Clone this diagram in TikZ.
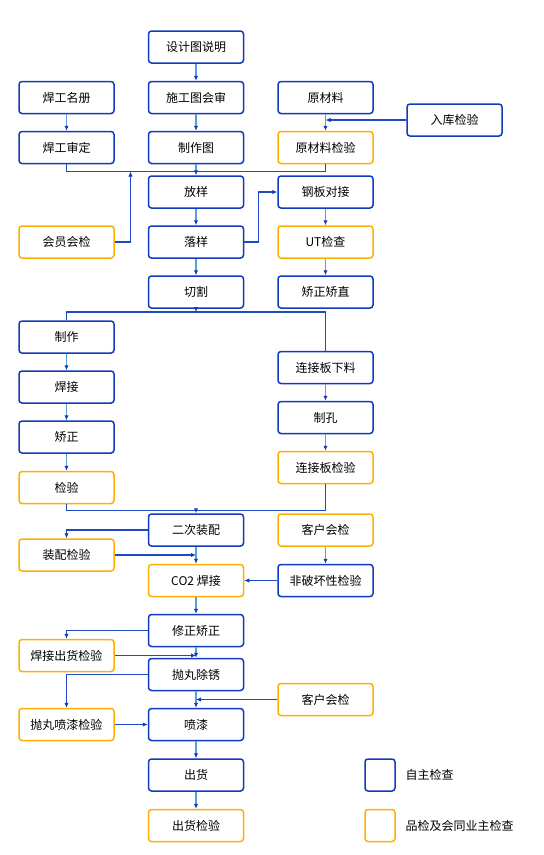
\documentclass[tikz,border=0pt]{standalone}
\usepackage{fontspec}
\setmainfont{Noto Sans CJK SC}
\usetikzlibrary{arrows.meta}
\definecolor{bleufonce}{RGB}{18,58,190}
\definecolor{bleuclair}{RGB}{88,158,218}
\definecolor{orangeqc}{RGB}{255,176,0}
\begin{document}
\begin{tikzpicture}[x=1pt,y=-1pt,font=\fontsize{12}{14}\selectfont]
	\tikzstyle{etape}=[draw=bleufonce,line width=1.5pt,rounded corners=3pt,fill=white,minimum width=95pt,minimum height=32pt,inner sep=0pt]
	\tikzstyle{controle}=[etape,draw=orangeqc]
	\tikzstyle{fleche}=[-{Latex[length=5pt,width=4.5pt,color=bleufonce]},bleuclair,line width=1.3pt]
	\tikzstyle{ligne}=[bleufonce!85!bleuclair,line width=1.2pt]
	\tikzstyle{renvoi}=[ligne,-{Latex[length=5pt,width=4.5pt,color=bleufonce]}]
	\def\ColA{66.5}\def\ColB{196}\def\ColC{325.5}\def\ColD{454.5}
	\useasboundingbox (0,0) rectangle (544,855);
	% colonne centrale
	\node[etape] (Plan) at (\ColB,47) {设计图说明};
	\node[etape] (Revue) at (\ColB,97.5) {施工图会审};
	\node[etape] (Dessin) at (\ColB,147.5) {制作图};
	\node[etape] (Trace) at (\ColB,192) {放样};
	\node[etape] (Report) at (\ColB,242) {落样};
	\node[etape] (Coupe) at (\ColB,292) {切割};
	\node[etape] (Assemb) at (\ColB,530) {二次装配};
	\node[controle] (Soud) at (\ColB,580.5) {CO2 焊接};
	\node[etape] (Redr) at (\ColB,630.5) {修正矫正};
	\node[etape] (Gren) at (\ColB,674.5) {抛丸除锈};
	\node[etape] (Peint) at (\ColB,724.5) {喷漆};
	\node[etape] (Exped) at (\ColB,775) {出货};
	\node[controle] (ExpedCtl) at (\ColB,825.5) {出货检验};
	% colonne gauche
	\node[etape] (Soudeurs) at (\ColA,97.5) {焊工名册};
	\node[etape] (SoudAgr) at (\ColA,147.5) {焊工审定};
	\node[controle] (Membres) at (\ColA,242) {会员会检};
	\node[etape] (Fab) at (\ColA,337) {制作};
	\node[etape] (FabSoud) at (\ColA,387) {焊接};
	\node[etape] (FabRedr) at (\ColA,437) {矫正};
	\node[controle] (FabCtl) at (\ColA,487.5) {检验};
	\node[controle] (AssembCtl) at (\ColA,555) {装配检验};
	\node[controle] (SoudCtl) at (\ColA,655.5) {焊接出货检验};
	\node[controle] (PeintCtl) at (\ColA,724.5) {抛丸喷漆检验};
	% colonne droite
	\node[etape] (Matiere) at (\ColC,97.5) {原材料};
	\node[controle] (MatCtl) at (\ColC,147.5) {原材料检验};
	\node[etape] (Stock) at (\ColD,120) {入库检验};
	\node[etape] (Tole) at (\ColC,192) {钢板对接};
	\node[controle] (UT) at (\ColC,242) {UT检查};
	\node[etape] (Dress) at (\ColC,292) {矫正矫直};
	\node[etape] (Plaque) at (\ColC,367.5) {连接板下料};
	\node[etape] (Percage) at (\ColC,417.5) {制孔};
	\node[controle] (PlaqueCtl) at (\ColC,467.5) {连接板检验};
	\node[controle] (Client) at (\ColC,530) {客户会检};
	\node[etape] (CND) at (\ColC,580.5) {非破坏性检验};
	\node[controle] (ClientB) at (\ColC,699.5) {客户会检};
	% legende
	\node[etape,minimum width=30pt,minimum height=32pt] (LegA) at (380,775) {};
	\node[controle,minimum width=30pt,minimum height=32pt] (LegB) at (380,825.5) {};
	\node[anchor=west] (LegAtxt) at (402,775) {自主检查};
	\node[anchor=west] (LegBtxt) at (402,825.5) {品检及会同业主检查};
	% points de jonction
	\coordinate (BusA) at (\ColB,171.5);
	\coordinate (BusAg) at (130.5,171.5);
	\coordinate (BusB) at (\ColB,312);
	\coordinate (BusC) at (\ColB,510.5);
	\coordinate (StockPt) at (\ColC,120);
	\coordinate (AssembPt) at (\ColB,555);
	\coordinate (SoudPt) at (\ColB,655.5);
	\coordinate (ClientPt) at (\ColB,699.5);
	% liaisons
	\draw[fleche] (Plan)--(Revue);
	\draw[fleche] (Revue)--(Dessin);
	\draw[fleche] (Soudeurs)--(SoudAgr);
	\draw[fleche] (Matiere)--(MatCtl);
	\draw[renvoi] (Stock.west)--(StockPt);
	\draw[ligne] (SoudAgr.south) |- (BusA) -| (MatCtl.south);
	\draw[renvoi] (Membres.east) -| (BusAg);
	\draw[fleche] (Dessin)--(Trace);
	\draw[fleche] (Trace)--(Report);
	\draw[fleche] (Report)--(Coupe);
	\draw[renvoi] (Report.east) -- ++(14.5,0) |- (Tole.west);
	\draw[fleche] (Tole)--(UT);
	\draw[fleche] (UT)--(Dress);
	\draw[ligne] (Fab.north) |- (BusB) -| (Plaque.north);
	\draw[fleche] (Coupe.south)--(BusB);
	\draw[fleche] (Fab)--(FabSoud);
	\draw[fleche] (FabSoud)--(FabRedr);
	\draw[fleche] (FabRedr)--(FabCtl);
	\draw[fleche] (Plaque)--(Percage);
	\draw[fleche] (Percage)--(PlaqueCtl);
	\draw[ligne] (FabCtl.south) |- (BusC) -| (PlaqueCtl.south);
	\draw[fleche] (BusC)--(Assemb.north);
	\draw[renvoi] (Assemb.west) -| (AssembCtl.north);
	\draw[fleche] (Assemb)--(Soud);
	\draw[renvoi] (AssembCtl.east)--(AssembPt);
	\draw[fleche] (Client)--(CND);
	\draw[renvoi] (CND.west)--(Soud.east);
	\draw[fleche] (Soud)--(Redr);
	\draw[renvoi] (Redr.west) -| (SoudCtl.north);
	\draw[fleche] (Redr)--(Gren);
	\draw[renvoi] (SoudCtl.east)--(SoudPt);
	\draw[renvoi] (Gren.west) -| (PeintCtl.north);
	\draw[fleche] (Gren)--(Peint);
	\draw[renvoi] (ClientB.west)--(ClientPt);
	\draw[renvoi] (PeintCtl.east)--(Peint.west);
	\draw[fleche] (Peint)--(Exped);
	\draw[fleche] (Exped)--(ExpedCtl);
\end{tikzpicture}
\end{document}
